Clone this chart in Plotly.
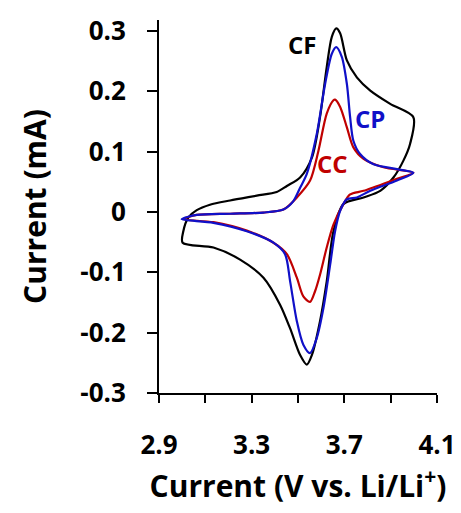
import plotly.graph_objects as go

# CF (black) loop: anodic scan then cathodic scan
cf_v = [3.002, 3.005, 3.027, 3.063, 3.120, 3.207, 3.322, 3.408, 3.452, 3.509, 3.560, 3.595, 3.624, 3.646, 3.665,
        3.682, 3.711, 3.754, 3.812, 3.898, 3.998,
        3.984, 3.955, 3.912, 3.855, 3.783, 3.696, 3.653, 3.624, 3.595, 3.560, 3.538, 3.509, 3.466, 3.423, 3.351,
        3.250, 3.135, 3.002]
cf_i = [-0.051, -0.032, -0.009, 0.003, 0.012, 0.019, 0.027, 0.033, 0.043, 0.057, 0.090, 0.157, 0.240, 0.290, 0.304,
        0.296, 0.251, 0.223, 0.201, 0.179, 0.157,
        0.113, 0.085, 0.057, 0.035, 0.024, 0.013, -0.032, -0.115, -0.181, -0.237, -0.253, -0.237, -0.193, -0.154, -0.109,
        -0.079, -0.059, -0.051]

# CP (blue) loop
cp_v = [2.998, 3.063, 3.207, 3.350, 3.437, 3.480, 3.509, 3.538, 3.581, 3.617, 3.646, 3.665, 3.689, 3.711, 3.725,
        3.739, 3.768, 3.826, 3.927, 3.998,
        3.927, 3.812, 3.754, 3.711, 3.682, 3.660, 3.639, 3.610, 3.581, 3.552, 3.523, 3.495, 3.466, 3.444, 3.394,
        3.279, 3.135, 2.998]
cp_i = [-0.012, -0.005, -0.003, -0.001, 0.004, 0.018, 0.040, 0.063, 0.129, 0.212, 0.262, 0.273, 0.257, 0.212, 0.157,
        0.118, 0.096, 0.079, 0.071, 0.065,
        0.052, 0.035, 0.024, 0.021, 0.002, -0.032, -0.087, -0.159, -0.209, -0.234, -0.220, -0.181, -0.115, -0.070, -0.051,
        -0.032, -0.018, -0.012]

# CC (red) loop
cc_v = [3.005, 3.063, 3.207, 3.350, 3.437, 3.495, 3.552, 3.588, 3.624, 3.653, 3.660, 3.682, 3.711, 3.739, 3.783,
        3.869, 3.998,
        3.927, 3.783, 3.725, 3.696, 3.653, 3.624, 3.595, 3.574, 3.552, 3.523, 3.495, 3.452, 3.394, 3.279, 3.135, 3.005]
cc_i = [-0.012, -0.005, -0.003, -0.001, 0.004, 0.024, 0.052, 0.101, 0.163, 0.185, 0.186, 0.174, 0.140, 0.107, 0.088,
        0.074, 0.065,
        0.055, 0.035, 0.029, 0.013, -0.021, -0.059, -0.104, -0.131, -0.149, -0.140, -0.109, -0.070, -0.051, -0.031,
        -0.017, -0.012]

labels = ["CF", "CP", "CC"]
label_v = [3.518, 3.812, 3.647]
label_i = [0.278, 0.155, 0.080]
colors = ["#000000", "#1010C8", "#C00000"]

x_tickvals = [2.9, 3.3, 3.7, 4.1]
x_ticktext = ["2.9", "3.3", "3.7", "4.1"]
x_minorvals = [3.1, 3.5, 3.9]
y_tickvals = [-0.3, -0.2, -0.1, 0, 0.1, 0.2, 0.3]
y_ticktext = ["-0.3", "-0.2", "-0.1", "0", "0.1", "0.2", "0.3"]

FONT = "Open Sans"

fig = go.Figure()
for v, i, c in [(cf_v, cf_i, colors[0]), (cc_v, cc_i, colors[2]), (cp_v, cp_i, colors[1])]:
    fig.add_trace(go.Scatter(x=v, y=i, mode="lines", line=dict(color=c, width=2.2, shape="spline", smoothing=0.8),
                             showlegend=False, hoverinfo="skip"))

for t, xv, yv, c in zip(labels, label_v, label_i, colors):
    fig.add_annotation(x=xv, y=yv, text="<b>%s</b>" % t, showarrow=False,
                       font=dict(family=FONT, size=24, color=c))

# page body has an 8px default margin, so the figure is sized to fit the window
fig.update_layout(
    width=453, height=505,
    margin=dict(l=151, r=24, t=12, b=120),
    paper_bgcolor="white", plot_bgcolor="white",
    font=dict(family=FONT, color="black"),
)
fig.update_xaxes(range=[2.9, 4.1], tickvals=x_tickvals,
                 ticktext=["<b>%s</b>" % t for t in x_ticktext],
                 ticks="outside", ticklen=8, tickwidth=2, tickcolor="black",
                 minor=dict(tickvals=x_minorvals, ticks="outside", ticklen=8, tickwidth=2, tickcolor="black",
                            showgrid=False),
                 showline=True, linewidth=2, linecolor="black", showgrid=False, zeroline=False,
                 tickfont=dict(family=FONT, size=26, color="black"),
                 ticklabelstandoff=20, automargin=False,
                 title=dict(text="<b>Current (V vs. Li/Li<sup>+</sup>)</b>", font=dict(family=FONT, size=30),
                            standoff=14))
fig.update_yaxes(range=[-0.3, 0.318], tickvals=y_tickvals,
                 ticktext=["<b>%s</b>" % t for t in y_ticktext],
                 ticks="outside", ticklen=10, tickwidth=2, tickcolor="black",
                 showline=True, linewidth=2, linecolor="black", showgrid=False, zeroline=False,
                 tickfont=dict(family=FONT, size=26, color="black"),
                 ticklabelstandoff=16, automargin=False,
                 title=dict(text="<b>Current (mA)</b>", font=dict(family=FONT, size=30), standoff=25))

fig.write_html("out.html")
